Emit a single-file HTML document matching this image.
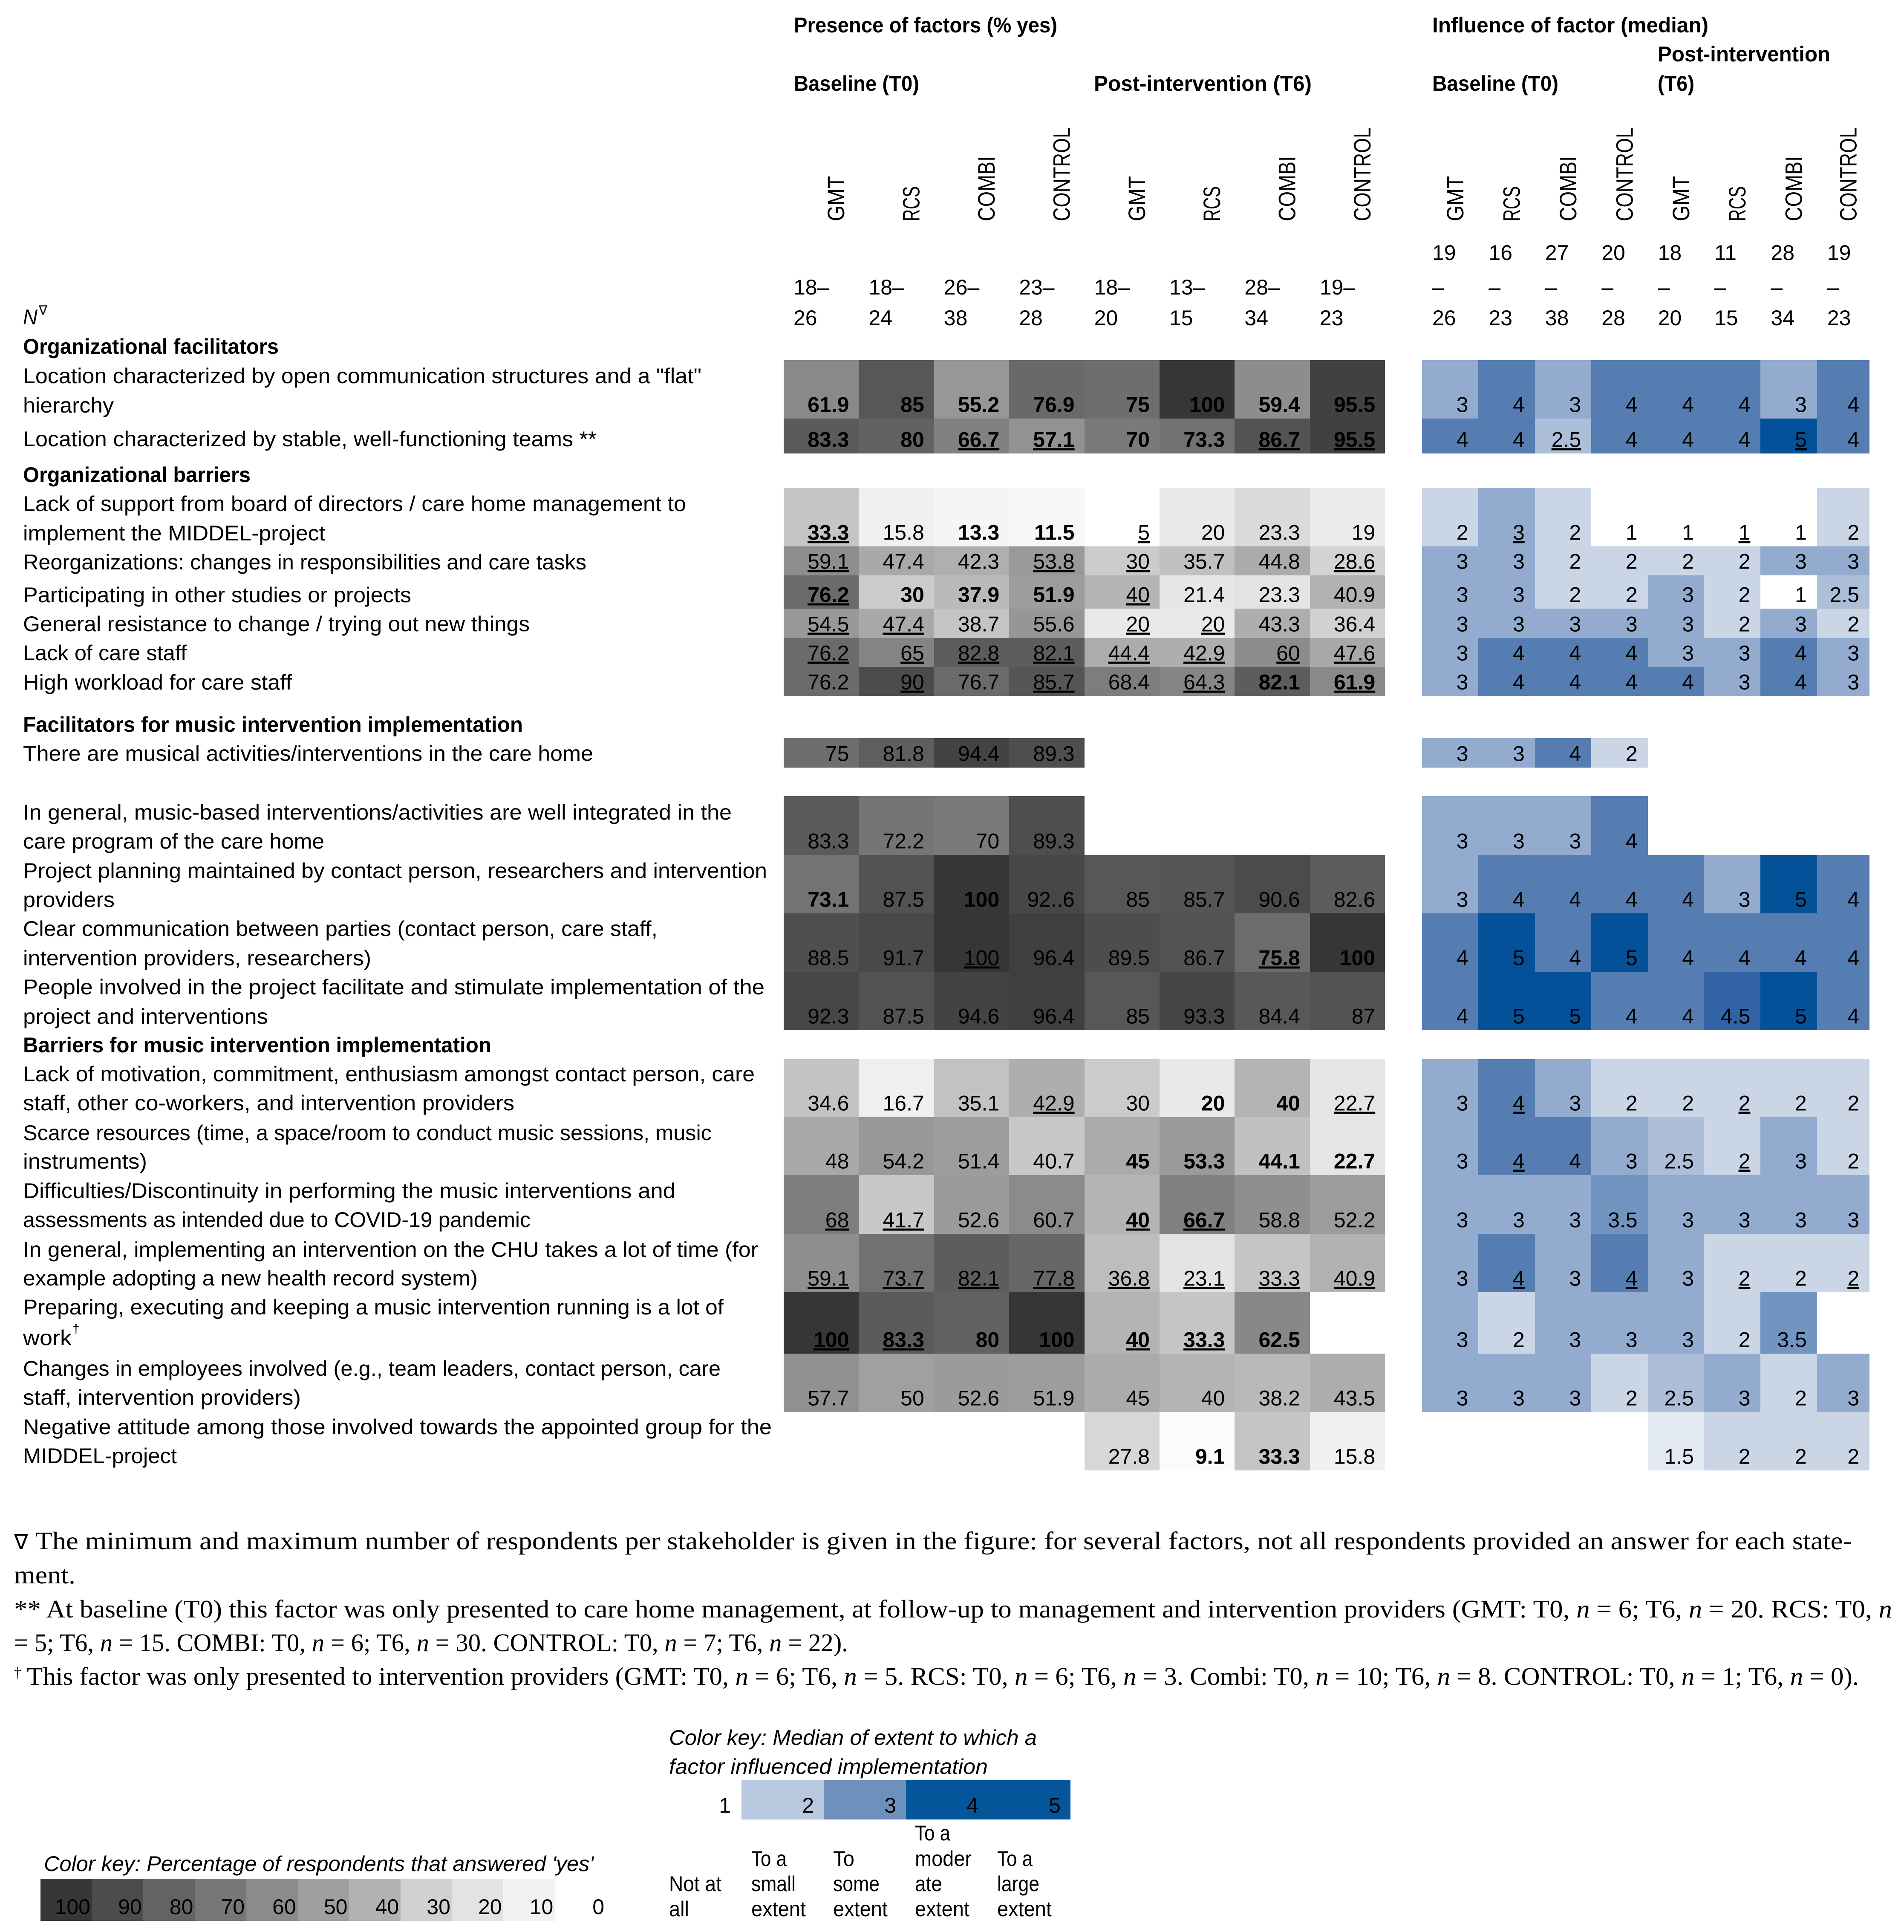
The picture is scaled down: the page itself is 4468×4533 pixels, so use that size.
<!DOCTYPE html>
<html lang="en">
<head>
<meta charset="utf-8">
<title>Presence and influence of factors heatmap</title>
<style>
html,body{margin:0;padding:0;background:#fff;}
svg{display:block;}
text{font-family:"Liberation Sans",sans-serif;font-size:50px;fill:#000;}
.b{font-weight:bold;}
.i{font-style:italic;}
.f{font-family:"Liberation Serif",serif;font-size:59px;}
</style>
</head>
<body>
<svg id="chart" xmlns="http://www.w3.org/2000/svg" width="4468" height="4533" viewBox="0 0 4468 4533">
<g id="cells"></g>
<g id="labels"></g>

<text class="b" x="1863" y="76" textLength="618" lengthAdjust="spacingAndGlyphs">Presence of factors (% yes)</text>
<text class="b" x="1863" y="213" textLength="294" lengthAdjust="spacingAndGlyphs">Baseline (T0)</text>
<text class="b" x="2567" y="213" textLength="511" lengthAdjust="spacingAndGlyphs">Post-intervention (T6)</text>
<text class="b" x="3361" y="76" textLength="648" lengthAdjust="spacingAndGlyphs">Influence of factor (median)</text>
<text class="b" x="3361" y="213" textLength="296" lengthAdjust="spacingAndGlyphs">Baseline (T0)</text>
<text class="b" x="3890" y="144" textLength="405" lengthAdjust="spacingAndGlyphs">Post-intervention</text>
<text class="b" x="3890" y="213" textLength="86" lengthAdjust="spacingAndGlyphs">(T6)</text>

<text class="i" x="54" y="761" textLength="34" lengthAdjust="spacingAndGlyphs">N</text>
<text x="91" y="738" style="font-size:30px">∇</text>

<g>
<text class="b" x="54" y="830" textLength="600" lengthAdjust="spacingAndGlyphs">Organizational facilitators</text>
<text x="54" y="899" textLength="1592" lengthAdjust="spacingAndGlyphs">Location characterized by open communication structures and a "flat"</text>
<text x="54" y="968" textLength="213" lengthAdjust="spacingAndGlyphs">hierarchy</text>
<text x="54" y="1047" textLength="1346" lengthAdjust="spacingAndGlyphs">Location characterized by stable, well-functioning teams **</text>
<text class="b" x="54" y="1131" textLength="534" lengthAdjust="spacingAndGlyphs">Organizational barriers</text>
<text x="54" y="1199" textLength="1556" lengthAdjust="spacingAndGlyphs">Lack of support from board of directors / care home management to</text>
<text x="54" y="1268" textLength="709" lengthAdjust="spacingAndGlyphs">implement the MIDDEL-project</text>
<text x="54" y="1336" textLength="1322" lengthAdjust="spacingAndGlyphs">Reorganizations: changes in responsibilities and care tasks</text>
<text x="54" y="1413" textLength="911" lengthAdjust="spacingAndGlyphs">Participating in other studies or projects</text>
<text x="54" y="1481" textLength="1189" lengthAdjust="spacingAndGlyphs">General resistance to change / trying out new things</text>
<text x="54" y="1549" textLength="384" lengthAdjust="spacingAndGlyphs">Lack of care staff</text>
<text x="54" y="1618" textLength="631" lengthAdjust="spacingAndGlyphs">High workload for care staff</text>
<text class="b" x="54" y="1717" textLength="1173" lengthAdjust="spacingAndGlyphs">Facilitators for music intervention implementation</text>
<text x="54" y="1785" textLength="1338" lengthAdjust="spacingAndGlyphs">There are musical activities/interventions in the care home</text>
<text x="54" y="1923" textLength="1663" lengthAdjust="spacingAndGlyphs">In general, music-based interventions/activities are well integrated in the</text>
<text x="54" y="1991" textLength="707" lengthAdjust="spacingAndGlyphs">care program of the care home</text>
<text x="54" y="2060" textLength="1746" lengthAdjust="spacingAndGlyphs">Project planning maintained by contact person, researchers and intervention</text>
<text x="54" y="2128" textLength="215" lengthAdjust="spacingAndGlyphs">providers</text>
<text x="54" y="2196" textLength="1489" lengthAdjust="spacingAndGlyphs">Clear communication between parties (contact person, care staff,</text>
<text x="54" y="2265" textLength="817" lengthAdjust="spacingAndGlyphs">intervention providers, researchers)</text>
<text x="54" y="2333" textLength="1740" lengthAdjust="spacingAndGlyphs">People involved in the project facilitate and stimulate implementation of the</text>
<text x="54" y="2402" textLength="575" lengthAdjust="spacingAndGlyphs">project and interventions</text>
<text class="b" x="54" y="2469" textLength="1099" lengthAdjust="spacingAndGlyphs">Barriers for music intervention implementation</text>
<text x="54" y="2537" textLength="1717" lengthAdjust="spacingAndGlyphs">Lack of motivation, commitment, enthusiasm amongst contact person, care</text>
<text x="54" y="2605" textLength="1153" lengthAdjust="spacingAndGlyphs">staff, other co-workers, and intervention providers</text>
<text x="54" y="2675" textLength="1616" lengthAdjust="spacingAndGlyphs">Scarce resources (time, a space/room to conduct music sessions, music</text>
<text x="54" y="2742" textLength="291" lengthAdjust="spacingAndGlyphs">instruments)</text>
<text x="54" y="2811" textLength="1531" lengthAdjust="spacingAndGlyphs">Difficulties/Discontinuity in performing the music interventions and</text>
<text x="54" y="2879" textLength="1191" lengthAdjust="spacingAndGlyphs">assessments as intended due to COVID-19 pandemic</text>
<text x="54" y="2949" textLength="1725" lengthAdjust="spacingAndGlyphs">In general, implementing an intervention on the CHU takes a lot of time (for</text>
<text x="54" y="3016" textLength="1067" lengthAdjust="spacingAndGlyphs">example adopting a new health record system)</text>
<text x="54" y="3084" textLength="1644" lengthAdjust="spacingAndGlyphs">Preparing, executing and keeping a music intervention running is a lot of</text>
<text x="54" y="3156" textLength="114" lengthAdjust="spacingAndGlyphs">work</text>
<text x="170" y="3128" style="font-size:30px">†</text>
<text x="54" y="3228" textLength="1637" lengthAdjust="spacingAndGlyphs">Changes in employees involved (e.g., team leaders, contact person, care</text>
<text x="54" y="3296" textLength="652" lengthAdjust="spacingAndGlyphs">staff, intervention providers)</text>
<text x="54" y="3365" textLength="1757" lengthAdjust="spacingAndGlyphs">Negative attitude among those involved towards the appointed group for the</text>
<text x="54" y="3433" textLength="361" lengthAdjust="spacingAndGlyphs">MIDDEL-project</text>
</g>

<g>
<text class="f" x="33" y="3635" textLength="33" lengthAdjust="spacingAndGlyphs" style="font-size:50px">∇</text>
<text class="f" x="83" y="3635" textLength="4263" lengthAdjust="spacingAndGlyphs">The minimum and maximum number of respondents per stakeholder is given in the figure: for several factors, not all respondents provided an answer for each state-</text>
<text class="f" x="33" y="3715" textLength="144" lengthAdjust="spacingAndGlyphs">ment.</text>
<text class="f" x="33" y="3795" textLength="4407" lengthAdjust="spacingAndGlyphs">** At baseline (T0) this factor was only presented to care home management, at follow-up to management and intervention providers (GMT: T0, <tspan class="i">n</tspan> = 6; T6, <tspan class="i">n</tspan> = 20. RCS: T0, <tspan class="i">n</tspan></text>
<text class="f" x="33" y="3874" textLength="1957" lengthAdjust="spacingAndGlyphs">= 5; T6, <tspan class="i">n</tspan> = 15. COMBI: T0, <tspan class="i">n</tspan> = 6; T6, <tspan class="i">n</tspan> = 30. CONTROL: T0, <tspan class="i">n</tspan> = 7; T6, <tspan class="i">n</tspan> = 22).</text>
<text class="f" x="33" y="3935" style="font-size:34px">†</text>
<text class="f" x="63" y="3953" textLength="4299" lengthAdjust="spacingAndGlyphs">This factor was only presented to intervention providers (GMT: T0, <tspan class="i">n</tspan> = 6; T6, <tspan class="i">n</tspan> = 5. RCS: T0, <tspan class="i">n</tspan> = 6; T6, <tspan class="i">n</tspan> = 3. Combi: T0, <tspan class="i">n</tspan> = 10; T6, <tspan class="i">n</tspan> = 8. CONTROL: T0, <tspan class="i">n</tspan> = 1; T6, <tspan class="i">n</tspan> = 0).</text>
</g>

<g>
<text class="i" x="1570" y="4094" textLength="863" lengthAdjust="spacingAndGlyphs">Color key: Median of extent to which a</text>
<text class="i" x="1570" y="4162" textLength="748" lengthAdjust="spacingAndGlyphs">factor influenced implementation</text>
<g id="blueKey"></g>
<text x="1570" y="4437" textLength="123" lengthAdjust="spacingAndGlyphs">Not at</text>
<text x="1570" y="4496" textLength="47" lengthAdjust="spacingAndGlyphs">all</text>
<text x="1763" y="4378" textLength="83" lengthAdjust="spacingAndGlyphs">To a</text>
<text x="1763" y="4437" textLength="104" lengthAdjust="spacingAndGlyphs">small</text>
<text x="1763" y="4496" textLength="128" lengthAdjust="spacingAndGlyphs">extent</text>
<text x="1955" y="4378" textLength="50" lengthAdjust="spacingAndGlyphs">To</text>
<text x="1955" y="4437" textLength="109" lengthAdjust="spacingAndGlyphs">some</text>
<text x="1955" y="4496" textLength="128" lengthAdjust="spacingAndGlyphs">extent</text>
<text x="2147" y="4318" textLength="83" lengthAdjust="spacingAndGlyphs">To a</text>
<text x="2147" y="4378" textLength="133" lengthAdjust="spacingAndGlyphs">moder</text>
<text x="2147" y="4437" textLength="64" lengthAdjust="spacingAndGlyphs">ate</text>
<text x="2147" y="4496" textLength="128" lengthAdjust="spacingAndGlyphs">extent</text>
<text x="2340" y="4378" textLength="83" lengthAdjust="spacingAndGlyphs">To a</text>
<text x="2340" y="4437" textLength="99" lengthAdjust="spacingAndGlyphs">large</text>
<text x="2340" y="4496" textLength="128" lengthAdjust="spacingAndGlyphs">extent</text>
</g>

<g>
<text class="i" x="103" y="4390" textLength="1290" lengthAdjust="spacingAndGlyphs">Color key: Percentage of respondents that answered 'yes'</text>
<g id="grayKey"></g>
</g>
</svg>

<script>
// Column categories
const groupLabels = ['GMT', 'RCS', 'COMBI', 'CONTROL'];

// Respondent ranges
const presenceNMin = [18, 18, 26, 23, 18, 13, 28, 19];
const presenceNMax = [26, 24, 38, 28, 20, 15, 34, 23];
const influenceNMin = [19, 16, 27, 20, 18, 11, 28, 19];
const influenceNMax = [26, 23, 38, 28, 20, 15, 34, 23];

// Presence of factors (% yes)
const presenceValues = [
  [61.9, 85, 55.2, 76.9, 75, 100, 59.4, 95.5],
  [83.3, 80, 66.7, 57.1, 70, 73.3, 86.7, 95.5],
  [33.3, 15.8, 13.3, 11.5, 5, 20, 23.3, 19],
  [59.1, 47.4, 42.3, 53.8, 30, 35.7, 44.8, 28.6],
  [76.2, 30, 37.9, 51.9, 40, 21.4, 23.3, 40.9],
  [54.5, 47.4, 38.7, 55.6, 20, 20, 43.3, 36.4],
  [76.2, 65, 82.8, 82.1, 44.4, 42.9, 60, 47.6],
  [76.2, 90, 76.7, 85.7, 68.4, 64.3, 82.1, 61.9],
  [75, 81.8, 94.4, 89.3, null, null, null, null],
  [83.3, 72.2, 70, 89.3, null, null, null, null],
  [73.1, 87.5, 100, 92.6, 85, 85.7, 90.6, 82.6],
  [88.5, 91.7, 100, 96.4, 89.5, 86.7, 75.8, 100],
  [92.3, 87.5, 94.6, 96.4, 85, 93.3, 84.4, 87],
  [34.6, 16.7, 35.1, 42.9, 30, 20, 40, 22.7],
  [48, 54.2, 51.4, 40.7, 45, 53.3, 44.1, 22.7],
  [68, 41.7, 52.6, 60.7, 40, 66.7, 58.8, 52.2],
  [59.1, 73.7, 82.1, 77.8, 36.8, 23.1, 33.3, 40.9],
  [100, 83.3, 80, 100, 40, 33.3, 62.5, null],
  [57.7, 50, 52.6, 51.9, 45, 40, 38.2, 43.5],
  [null, null, null, null, 27.8, 9.1, 33.3, 15.8]
];

// Emphasis of printed presence values: b = bold, u = underlined, - = plain
const presenceEmphasis = [
  'b b b b b b b b',
  'b b bu bu b b bu bu',
  'bu - b b u - - -',
  'u - - u u - - u',
  'bu b b b u - - -',
  'u u - - u u - -',
  'u u u u u u u u',
  '- u - u - u b bu',
  '- - - - - - - -',
  '- - - - - - - -',
  'b - b - - - - -',
  '- - u - - - bu b',
  '- - - - - - - -',
  '- - - u - b b u',
  '- - - - b b b b',
  'u u - - bu bu - -',
  'u u u u u u u u',
  'bu bu b b bu bu b -',
  '- - - - - - - -',
  '- - - - - b b -'
];

// Influence of factor (median)
const influenceValues = [
  [3, 4, 3, 4, 4, 4, 3, 4],
  [4, 4, 2.5, 4, 4, 4, 5, 4],
  [2, 3, 2, 1, 1, 1, 1, 2],
  [3, 3, 2, 2, 2, 2, 3, 3],
  [3, 3, 2, 2, 3, 2, 1, 2.5],
  [3, 3, 3, 3, 3, 2, 3, 2],
  [3, 4, 4, 4, 3, 3, 4, 3],
  [3, 4, 4, 4, 4, 3, 4, 3],
  [3, 3, 4, 2, null, null, null, null],
  [3, 3, 3, 4, null, null, null, null],
  [3, 4, 4, 4, 4, 3, 5, 4],
  [4, 5, 4, 5, 4, 4, 4, 4],
  [4, 5, 5, 4, 4, 4.5, 5, 4],
  [3, 4, 3, 2, 2, 2, 2, 2],
  [3, 4, 4, 3, 2.5, 2, 3, 2],
  [3, 3, 3, 3.5, 3, 3, 3, 3],
  [3, 4, 3, 4, 3, 2, 2, 2],
  [3, 2, 3, 3, 3, 2, 3.5, null],
  [3, 3, 3, 2, 2.5, 3, 2, 3],
  [null, null, null, null, 1.5, 2, 2, 2]
];

// Underlined influence values as row, column pairs
const influenceUnderlined = [[1, 2], [1, 6], [2, 1], [2, 5], [13, 1], [13, 5], [14, 1], [14, 5], [16, 1], [16, 3], [16, 5], [16, 7]];

// Shade deviations seen in the source, added to the value before colouring
const presenceShadeShift = [[2, 6, 3.2], [5, 2, -4.7], [5, 7, -7.4], [14, 3, -8.7], [14, 6, -8.6], [15, 1, -9.7]];

// The source prints this one value with a double point
const doublePointCells = [[10, 3]];

// Colour key entries
const grayKeyLabels = [100, 90, 80, 70, 60, 50, 40, 30, 20, 10, 0];
const blueKeyLabels = [2, 3, 4, 5];

const SVGNS = 'http://www.w3.org/2000/svg';
const cellsLayer = document.getElementById('cells');
const labelsLayer = document.getElementById('labels');

function rowBand(r) {
  const edges = [[845,982],[982,1064],[1145,1282],[1282,1350],[1350,1428],[1428,1497],[1497,1565],[1565,1633],
    [1732,1801],[1868,2006],[2006,2143],[2143,2280],[2280,2417],[2485,2621],[2621,2757],[2757,2895],
    [2895,3032],[3032,3176],[3176,3313],[3313,3450]];
  return { top: edges[r][0], bottom: edges[r][1], baseline: edges[r][1] - 15.5 };
}
function presenceX(c) { return 1839 + c * 176.4; }
function influenceX(c) { return Math.min(3337 + c * 132.4, 4387); }

function lerpStops(stops, outs, v) {
  if (v <= stops[0]) return outs[0].slice();
  for (let i = 1; i < stops.length; i++) {
    if (v <= stops[i]) {
      const t = (v - stops[i - 1]) / (stops[i] - stops[i - 1]);
      return outs[i - 1].map((a, k) => Math.round(a + (outs[i][k] - a) * t));
    }
  }
  return outs[outs.length - 1].slice();
}
function presenceColor(v) {
  const stops = [5, 9.1, 13, 16, 20, 23, 25, 28, 30, 33, 35, 37, 40, 43, 45, 48, 50, 55, 60, 65, 70, 75, 80, 85, 90, 95, 100];
  const grays = [255, 251, 245, 240, 233, 228, 222, 214, 203, 198, 194, 188, 180, 174, 171, 168, 160, 151, 140, 132, 122, 110];
  const dark = [[99,98,97],[88,87,86],[77,76,74],[67,66,65],[55,54,52]];
  const outs = grays.map(g => [g, g, g]).concat(dark);
  const rgb = lerpStops(stops, outs, v);
  return 'rgb(' + rgb.join(',') + ')';
}
function influenceColor(v) {
  const stops = [1, 1.5, 2, 2.5, 3, 3.5, 4, 4.5, 5];
  const outs = [[255,255,255],[227,233,242],[202,213,230],[173,190,217],[146,171,207],[114,148,193],[86,125,177],[50,99,166],[4,81,153]];
  const rgb = lerpStops(stops, outs, v);
  return 'rgb(' + rgb.join(',') + ')';
}

function hasCell(list, r, c) { return list.some(p => p[0] === r && p[1] === c); }
function shiftFor(r, c) {
  const hit = presenceShadeShift.find(p => p[0] === r && p[1] === c);
  return hit ? hit[2] : 0;
}
function makeText(parent, x, y, content, anchor, bold, underline) {
  const t = document.createElementNS(SVGNS, 'text');
  t.setAttribute('x', x);
  t.setAttribute('y', y);
  if (anchor) t.setAttribute('text-anchor', anchor);
  if (bold) t.setAttribute('font-weight', 'bold');
  if (underline) t.setAttribute('text-decoration', 'underline');
  t.textContent = content;
  parent.appendChild(t);
  return t;
}
function makeRect(parent, x0, y0, x1, y1, fill) {
  const rect = document.createElementNS(SVGNS, 'rect');
  rect.setAttribute('x', Math.round(x0));
  rect.setAttribute('y', Math.round(y0));
  rect.setAttribute('width', Math.round(x1) - Math.round(x0));
  rect.setAttribute('height', Math.round(y1) - Math.round(y0));
  rect.setAttribute('fill', fill);
  rect.setAttribute('shape-rendering', 'crispEdges');
  parent.appendChild(rect);
  return rect;
}

// Presence heatmap
presenceValues.forEach((row, r) => {
  const band = rowBand(r);
  row.forEach((v, c) => {
    if (v === null) return;
    const rect = makeRect(cellsLayer, presenceX(c), band.top, presenceX(c + 1), band.bottom, presenceColor(v + shiftFor(r, c)));
    
    
  });
});
presenceValues.forEach((row, r) => {
  const band = rowBand(r);
  const flags = presenceEmphasis[r].split(' ');
  row.forEach((v, c) => {
    if (v === null) return;
    const printed = hasCell(doublePointCells, r, c) ? String(v).replace('.', '..') : String(v);
    const label = makeText(cellsLayer, presenceX(c + 1) - 23, band.baseline, printed, 'end', flags[c].includes('b'), flags[c].includes('u'));
    
    
  });
});

// Influence heatmap
influenceValues.forEach((row, r) => {
  const band = rowBand(r);
  row.forEach((v, c) => {
    if (v === null) return;
    const rect = makeRect(cellsLayer, influenceX(c), band.top, influenceX(c + 1), band.bottom, influenceColor(v));
    
    
  });
});
influenceValues.forEach((row, r) => {
  const band = rowBand(r);
  row.forEach((v, c) => {
    if (v === null) return;
    const label = makeText(cellsLayer, influenceX(c + 1) - 24, band.baseline, String(v), 'end', false, hasCell(influenceUnderlined, r, c));
    
    
  });
});

// Rotated column headers
function columnHeader(x, idx) {
  const name = groupLabels[idx % 4];
  const lengths = { GMT: 106, RCS: 82, COMBI: 153, CONTROL: 220 };
  const t = makeText(labelsLayer, x, 519, name);
  t.setAttribute('transform', 'rotate(-90 ' + x + ' 519)');
  t.setAttribute('textLength', lengths[name]);
  t.setAttribute('lengthAdjust', 'spacingAndGlyphs');
  t.style.fontSize = '56px';
  
  
}
for (let c = 0; c < 8; c++) {
  columnHeader((presenceX(c) + presenceX(c + 1)) / 2 + 54, c);
  columnHeader((influenceX(c) + influenceX(c + 1)) / 2 + 31, c);
}

// Respondent ranges
presenceNMin.forEach((v, c) => {
  const low = makeText(labelsLayer, presenceX(c) + 23, 691, v + '–');
  
  
  const high = makeText(labelsLayer, presenceX(c) + 23, 763, String(presenceNMax[c]));
  
  
});
influenceNMin.forEach((v, c) => {
  const low = makeText(labelsLayer, influenceX(c) + 24, 610, String(v));
  
  
  const dash = makeText(labelsLayer, influenceX(c) + 24, 691, '–');
  
  
  const high = makeText(labelsLayer, influenceX(c) + 24, 763, String(influenceNMax[c]));
  
  
});

// Grey colour key
function grayKeyColor(i) {
  const shades = ['#383735', '#4c4c4c', '#636363', '#777777', '#8b8b8b', '#9f9f9f', '#b2b2b2', '#d1d1d1', '#e3e3e3', '#f2f2f2', '#ffffff'];
  return shades[i];
}
const grayKeyLayer = document.getElementById('grayKey');
grayKeyLabels.forEach((v, i) => {
  const x0 = 95 + i * 120.7;
  const swatch = makeRect(grayKeyLayer, x0, 4408, x0 + 120.7, 4507, grayKeyColor(i));
  
  
  const label = makeText(grayKeyLayer, i === 10 ? 1418 : x0 + 117, 4491, String(v), 'end');
  
  
});

// Blue colour key
function blueKeyColor(i) {
  const shades = ['#b8c8df', '#6d90bc', '#05559b', '#05559b'];
  return shades[i];
}
const blueKeyLayer = document.getElementById('blueKey');
const blueKeyOne = makeText(blueKeyLayer, 1715, 4253, '1', 'end');


blueKeyLabels.forEach((v, i) => {
  const x0 = 1740 + i * 193;
  const swatch = makeRect(blueKeyLayer, x0, 4177, x0 + 193, 4269, blueKeyColor(i));
  
  
  const label = makeText(blueKeyLayer, x0 + 170, 4253, String(v), 'end');
  
  
});
</script>
</body>
</html>
